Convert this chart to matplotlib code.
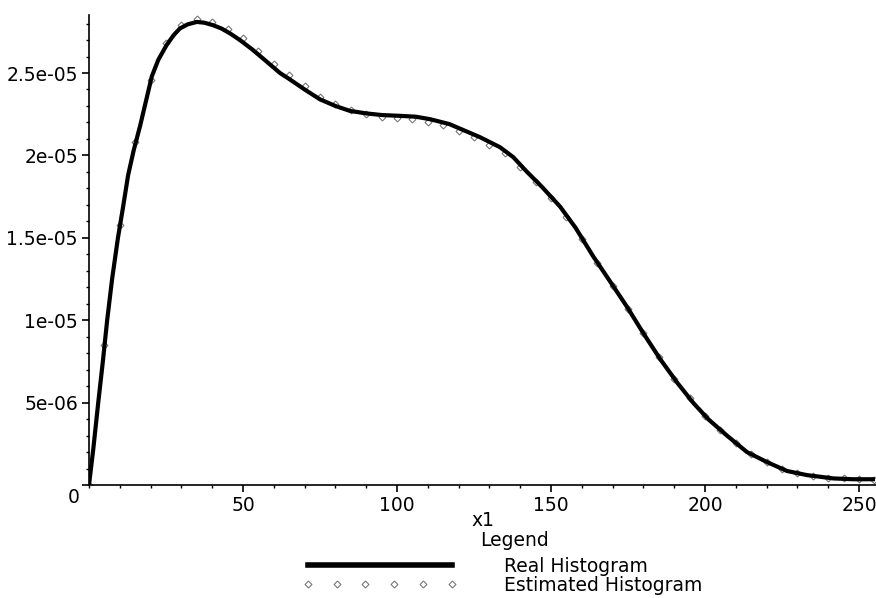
import matplotlib
matplotlib.use('Agg')
import matplotlib.pyplot as plt
from matplotlib.ticker import MultipleLocator, FixedLocator

plt.rcParams['font.family'] = ['DejaVu Sans']

# Real histogram (values in units of 1e-5)
x_real = [0, 1.4, 3, 4.5, 5.9, 7.5, 9.4, 11, 12.7, 14.5, 16.6, 18.5, 20.4, 22.5,
          25.2, 27.5, 29.5, 32, 35, 37.5, 40.3, 43, 45.8, 49, 53.2, 57, 62, 65.3,
          70, 75, 80, 84.7, 90, 95, 101, 106, 110.7, 117, 122, 127, 133.4, 137.7,
          142.2, 147, 152.9, 158, 163.6, 169, 174.7, 180, 185.4, 191, 196.1, 201,
          207.1, 213.6, 220, 226.6, 233.1, 241.6, 248, 254.5]
y_real = [0, 0.22, 0.5, 0.75, 1.0, 1.25, 1.5, 1.68, 1.88, 2.03, 2.18, 2.33, 2.48, 2.58,
          2.67, 2.73, 2.77, 2.795, 2.81, 2.805, 2.79, 2.77, 2.74, 2.70, 2.64, 2.58, 2.50, 2.46,
          2.40, 2.34, 2.30, 2.27, 2.255, 2.245, 2.24, 2.235, 2.22, 2.19, 2.15, 2.11, 2.05, 1.99,
          1.90, 1.81, 1.69, 1.56, 1.39, 1.24, 1.08, 0.92, 0.765, 0.62, 0.50, 0.40,
          0.30, 0.20, 0.14, 0.085, 0.06, 0.04, 0.035, 0.035]

# Estimated histogram (units of 1e-5), one point every 5
x_est = list(range(0, 256, 5))
y_est = [0.0, 0.85, 1.58, 2.08, 2.46, 2.68, 2.79, 2.825, 2.81, 2.77, 2.71, 2.635, 2.555,
         2.49, 2.42, 2.355, 2.31, 2.275, 2.25, 2.235, 2.225, 2.22, 2.205, 2.185, 2.15, 2.11,
         2.065, 2.015, 1.93, 1.84, 1.74, 1.625, 1.495, 1.35, 1.21, 1.07, 0.92, 0.775, 0.645,
         0.525, 0.42, 0.335, 0.255, 0.19, 0.14, 0.1, 0.072, 0.055, 0.045, 0.04, 0.035, 0.033]

y_ticks = [0, 5e-06, 1e-05, 1.5e-05, 2e-05, 2.5e-05]
y_tick_labels = ['', '5e-06', '1e-05', '1.5e-05', '2e-05', '2.5e-05']
x_ticks = [50, 100, 150, 200, 250]
fs = 13.5

fig = plt.figure(figsize=(8.76, 5.98), dpi=100)
ax = fig.add_axes([89 / 876, 113 / 598, 1 - 89 / 876, 470 / 598])

ax.plot(x_est, [v * 1e-5 for v in y_est], linestyle='none', marker='D', markersize=3.5,
        markerfacecolor='white', markeredgecolor='#777777', markeredgewidth=0.8,
        label='Estimated Histogram', zorder=2)
ax.plot(x_real, [v * 1e-5 for v in y_real], color='black', linewidth=3,
        label='Real Histogram', zorder=3)

ax.set_xlim(0, 255.5)
ax.set_ylim(0, 2.852e-05)

for s in ['top', 'right']:
    ax.spines[s].set_visible(False)
for s in ['left', 'bottom']:
    ax.spines[s].set_linewidth(1.2)

ax.xaxis.set_major_locator(FixedLocator(x_ticks))
ax.xaxis.set_minor_locator(MultipleLocator(10))
ax.yaxis.set_major_locator(FixedLocator(y_ticks))
ax.yaxis.set_minor_locator(MultipleLocator(1e-06))
ax.set_yticklabels(y_tick_labels)
ax.tick_params(which='major', length=5, width=1.2, labelsize=fs, pad=3)
ax.tick_params(which='minor', length=2.5, width=1)
ax.tick_params(axis='x', pad=3)

# lone "0" below-left of the origin, like the original
ax.annotate('0', xy=(0, 0), xytext=(-11, -9), textcoords='offset points',
            fontsize=fs, ha='center', va='center')

ax.set_xlabel('x1', fontsize=fs, labelpad=-3)

fig.text(515 / 876, 1 - 541 / 598, 'Legend', fontsize=fs, ha='center', va='center')
handles, labels = ax.get_legend_handles_labels()
leg = fig.legend(handles[::-1], labels[::-1], loc='upper left',
                 bbox_to_anchor=(302 / 876, 1 - 557 / 598), frameon=False,
                 fontsize=fs, handlelength=8.3, handletextpad=2.5,
                 labelspacing=0, numpoints=6, borderpad=0, borderaxespad=0)
for line in leg.get_lines():
    if line.get_label() == 'Real Histogram':
        line.set_linewidth(4)

fig.savefig('out.png', dpi=100)
